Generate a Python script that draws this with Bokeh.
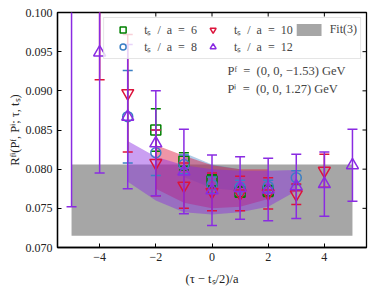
import numpy as np
from bokeh.plotting import figure
from bokeh.models import (FixedTicker, Legend, LegendItem, Label, Range1d)
from bokeh.embed import file_html
from bokeh.resources import INLINE

# ---- data ----
x6 = [-2, -1, 0, 1, 2]
y6 = [0.0850, 0.0810, 0.0785, 0.0771, 0.0772]
e6 = [0.0027, 0.0011, 0.0008, 0.0007, 0.0007]

x8 = [-3, -2, -1, 0, 1, 2, 3]
y8 = [0.0867, 0.0821, 0.0806, 0.0780, 0.0777, 0.0778, 0.0789]
e8 = [0.0059, 0.0029, 0.0012, 0.0010, 0.0009, 0.0008, 0.0009]

x10 = [-4, -3, -2, -1, 0, 1, 2, 3, 4]
y10 = [0.1020, 0.0897, 0.0808, 0.0779, 0.0771, 0.0769, 0.0769, 0.0768, 0.0798]
e10 = [0.0106, 0.0075, 0.0042, 0.0029, 0.0024, 0.0022, 0.0020, 0.0013, 0.0021]

x12 = [-5, -4, -3, -2, -1, 0, 1, 2, 3, 4, 5]
y12 = [0.1060, 0.0949, 0.0867, 0.0833, 0.0797, 0.0773, 0.0776, 0.0774, 0.0778, 0.0781, 0.0805]
e12 = [0.0308, 0.0154, 0.0092, 0.0067, 0.0054, 0.0045, 0.0040, 0.0040, 0.0041, 0.0041, 0.0046]

# fit bands per t_s
band8_x = [-1, 0, 1]
band8_hi = [0.0821, 0.0806, 0.0800]
band8_lo = [0.0790, 0.0776, 0.0772]

band10_x = [-2, -1, 0, 1, 2]
band10_hi = [0.0831, 0.0817, 0.0805, 0.0800, 0.0800]
band10_lo = [0.0775, 0.0757, 0.0750, 0.0752, 0.0762]

band12_x = [-3, -2, -1, 0, 1, 2, 3]
band12_hi = [0.0836, 0.0816, 0.0805, 0.0800, 0.0798, 0.0798, 0.0799]
band12_lo = [0.0784, 0.0760, 0.0745, 0.0742, 0.0745, 0.0752, 0.0772]

fit_x = [-5, 5]
fit_lo = [0.0715, 0.0715]
fit_hi = [0.0806, 0.0806]

ES = "\u2002"
labels = [f"t\u209b{ES}/{ES}a{ES}={ES}6", f"t\u209b{ES}/{ES}a{ES}={ES}8",
          f"t\u209b{ES}/{ES}a{ES}={ES}10", f"t\u209b{ES}/{ES}a{ES}={ES}12"]
yticks = [0.070, 0.075, 0.080, 0.085, 0.090, 0.095, 0.100]
xticks = [-4, -2, 0, 2, 4]
XMIN, XMAX = -5.5, 5.5
YMIN, YMAX = 0.070, 0.100

FONT = "Liberation Serif"

p = figure(frame_width=309, frame_height=235,
           x_range=Range1d(XMIN, XMAX), y_range=Range1d(YMIN, YMAX),
           output_backend="svg", toolbar_location=None,
           min_border_left=57, min_border_right=7, min_border_top=12, min_border_bottom=38,
           background_fill_color="white", border_fill_color="white")
p.xgrid.visible = False
p.ygrid.visible = False
p.outline_line_color = "black"
p.outline_line_width = 1.3

for ax in (p.xaxis[0], p.yaxis[0]):
    ax.major_tick_in = 4
    ax.major_tick_out = 0
    ax.minor_tick_in = 0
    ax.minor_tick_out = 0
    ax.axis_line_color = "black"
    ax.axis_line_width = 1.3
    ax.major_tick_line_width = 1
    ax.major_label_text_font = FONT
    ax.major_label_text_font_size = "12px"
    ax.major_label_text_color = "#222222"
    ax.axis_label_text_font = FONT
    ax.axis_label_text_font_size = "12.5px"
    ax.axis_label_text_font_style = "normal"
    ax.axis_label_text_color = "#222222"

p.xaxis.ticker = FixedTicker(ticks=xticks)
p.yaxis.ticker = FixedTicker(ticks=yticks)
p.xaxis.major_label_overrides = {-4: "\u22124", -2: "\u22122", 0: "0", 2: "2", 4: "4"}
p.yaxis.major_label_overrides = {v: f"{v:.3f}" for v in yticks}
p.xaxis.axis_label = "(\u03c4 \u2212 t\u209b/2)/a"
p.yaxis.axis_label = "R\u1da0\u2071(P\u1da0, P\u2071; \u03c4, t\u209b)"
p.xaxis.axis_label_standoff = 8
p.yaxis.axis_label_standoff = 1

# inward ticks on top and right edges (clipped half of a dash marker)
p.scatter(x=xticks, y=[YMAX] * len(xticks), marker="dash", angle=np.pi / 2,
          size=8, line_color="black", line_width=1)
p.scatter(x=[XMAX] * len(yticks), y=yticks, marker="dash",
          size=8, line_color="black", line_width=1)

# gray fit band
fit_r = p.varea(x=fit_x, y1=fit_lo, y2=fit_hi, fill_color="#a6a6a6", fill_alpha=1.0)

colors = ["green", "#3b7fc4", "crimson", "blueviolet"]
markers = ["square", "circle", "inverted_triangle", "triangle"]

p.varea(x=band8_x, y1=band8_lo, y2=band8_hi, fill_color=colors[1], fill_alpha=0.4)
p.varea(x=band10_x, y1=band10_lo, y2=band10_hi, fill_color=colors[2], fill_alpha=0.45)
p.varea(x=band12_x, y1=band12_lo, y2=band12_hi, fill_color=colors[3], fill_alpha=0.45)

series = [(x6, y6, e6), (x8, y8, e8), (x10, y10, e10), (x12, y12, e12)]
renders = []
for (xs, ys, es), c, m in zip(series, colors, markers):
    xs = np.array(xs, float); ys = np.array(ys); es = np.array(es)
    p.segment(x0=xs, y0=ys - es, x1=xs, y1=ys + es, line_color=c, line_width=1.5)
    p.scatter(xs, ys - es, marker="dash", size=10, line_color=c, line_width=1.5)
    p.scatter(xs, ys + es, marker="dash", size=10, line_color=c, line_width=1.5)
    r = p.scatter(xs, ys, marker=m, size=10 if m in ("square", "circle") else 12,
                  line_color=c, fill_color=None, line_width=1.5)
    renders.append(r)

items = [LegendItem(label=labels[i], renderers=[renders[i]]) for i in range(4)]
items.append(LegendItem(label="Fit(3)", renderers=[fit_r]))
leg = Legend(items=items, location="top_right", nrows=2, orientation="vertical",
             label_text_font=FONT, label_text_font_size="12px",
             glyph_width=31, glyph_height=15, label_height=15,
             label_standoff=6, spacing=0, padding=3, margin=5,
             border_line_color="#cccccc", border_line_width=1,
             background_fill_alpha=0.8)
p.add_layout(leg)

p.add_layout(Label(x=0.55, y=0.0925, text=f"P\u1da0{ES}={ES}(0, 0, \u22121.53) GeV",
                   text_font=FONT, text_font_size="12.5px", text_baseline="middle"))
p.add_layout(Label(x=0.55, y=0.0902, text=f"P\u2071{ES}={ES}(0, 0, 1.27) GeV",
                   text_font=FONT, text_font_size="12.5px", text_baseline="middle"))

open("out.html", "w").write(file_html(p, INLINE))
